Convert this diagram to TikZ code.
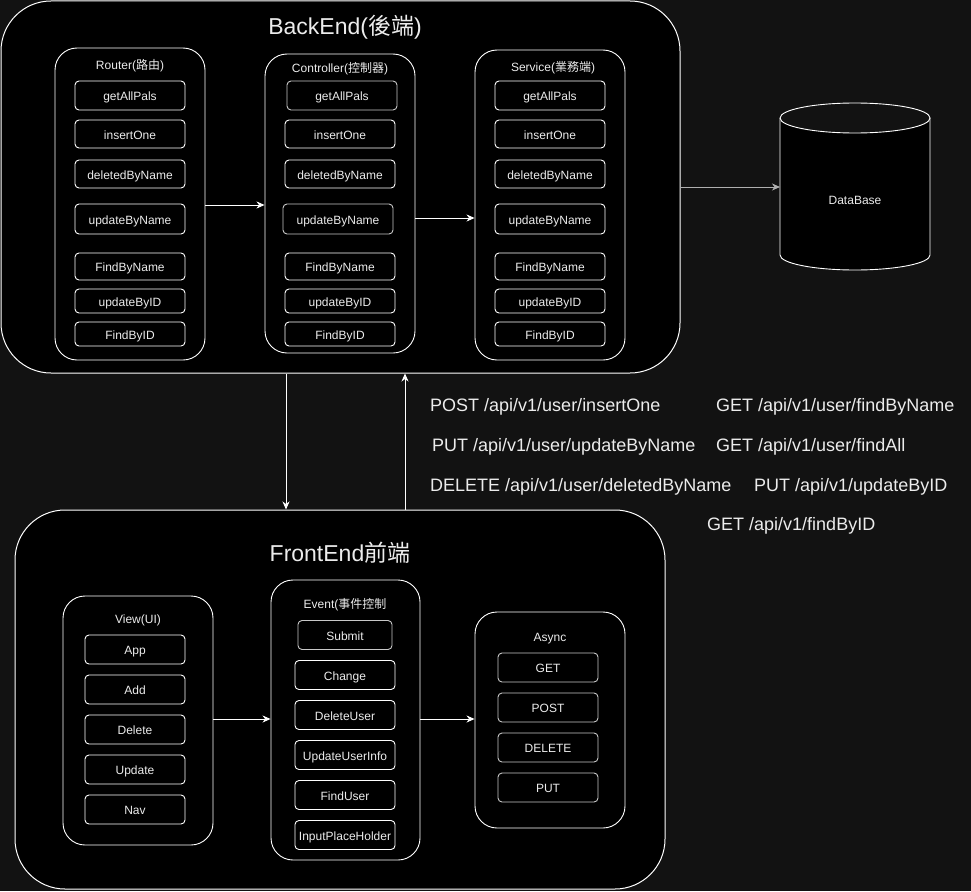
\documentclass[tikz,border=0pt]{standalone}
\usepackage{fontspec}
\setmainfont{Liberation Sans}
\newfontfamily\cjk{Noto Sans CJK TC}
\usetikzlibrary{arrows.meta}
\definecolor{canvas}{RGB}{18,18,18}
\definecolor{ink}{RGB}{236,236,236}
\definecolor{soft}{RGB}{200,200,200}
\definecolor{dbline}{RGB}{175,175,175}
\begin{document}
\begin{tikzpicture}[x=1pt,y=-1pt,
  panel/.style={draw=white, fill=black, line width=1pt, rounded corners=50pt, inner sep=0pt},
  group/.style={draw=white, fill=black, line width=0.9pt, rounded corners=22pt, inner sep=0pt},
  item/.style={draw=white, fill=black, line width=0.9pt, rounded corners=4pt,
    minimum width=110pt, inner sep=0pt, text=ink, text height=11pt, text depth=1pt,
    font=\fontsize{12}{14}\selectfont},
  softitem/.style={item, draw=soft},
  title/.style={text=ink, text height=17pt, text depth=2pt, font=\fontsize{23}{27}\selectfont},
  caption/.style={text=ink, text height=10pt, text depth=2pt, font=\fontsize{12}{14}\selectfont},
  api/.style={text=ink, anchor=west, inner sep=0pt, text height=15pt, text depth=2pt,
    font=\fontsize{18}{21}\selectfont},
  arr/.style={draw=white, line width=0.9pt, -{Stealth[length=8pt,width=7pt,inset=2.5pt]}},
  dbarr/.style={arr, draw=dbline, -{Stealth[length=8pt,width=7pt,inset=2.5pt,fill=dbline]}},
]
% canvas
\fill[canvas] (0,0) rectangle (971,891);
\useasboundingbox (0,0) rectangle (971,891);

% ---------------- back end ----------------
\node[panel, minimum width=679pt, minimum height=372pt] (back) at (340.5,187) {};
\node[title] (backtitle) at (345,27) {BackEnd({\cjk 後端})};

\node[group, minimum width=150pt, minimum height=312pt] (router) at (130,204) {};
\node[group, minimum width=150pt, minimum height=299pt] (ctrl) at (340,203.5) {};
\node[group, minimum width=150pt, minimum height=310pt] (svc) at (550,205) {};
\node[caption] (routerlbl) at (130,66) {Router({\cjk 路由})};
\node[caption] (ctrllbl) at (340,69) {Controller({\cjk 控制器})};
\node[caption] (svclbl) at (553,67) {Service({\cjk 業務端})};

\foreach \n/\t/\y/\h in {ga/getAllPals/95.5/29, io/insertOne/134/28,
    dn/deletedByName/174/28, un/updateByName/219/30, fn/FindByName/266.5/27,
    ui/updateByID/301/24, fi/FindByID/334/24}{
  \node[item, minimum height=\h pt] (r-\n) at (130,\y) {\t};
  \node[item, minimum height=\h pt] (s-\n) at (550,\y) {\t};
}
\node[softitem, minimum height=29pt] (c-ga) at (342,95.5) {getAllPals};
\node[item, minimum height=28pt] (c-io) at (340,134) {insertOne};
\node[item, minimum height=28pt] (c-dn) at (340,174) {deletedByName};
\node[softitem, minimum height=30pt] (c-un) at (338,219) {updateByName};
\node[item, minimum height=27pt] (c-fn) at (340,266.5) {FindByName};
\node[item, minimum height=24pt] (c-ui) at (340,301) {updateByID};
\node[item, minimum height=24pt] (c-fi) at (340,334) {FindByID};

\draw[arr] (router.east |- 0,205) -- (ctrl.west |- 0,205);
\draw[arr] (ctrl.east |- 0,218) -- (svc.west |- 0,218);

% ---------------- database ----------------
\fill[black] (780,118) -- (780,255) arc[start angle=180, end angle=0, x radius=75, y radius=15]
  -- (930,118) arc[start angle=0, end angle=180, x radius=75, y radius=15] -- cycle;
\draw[white, line width=0.9pt] (780,118) -- (780,255)
  arc[start angle=180, end angle=0, x radius=75, y radius=15] -- (930,118);
\draw[white, line width=0.9pt] (855,118) ellipse[x radius=75, y radius=15];
\node[caption] (db) at (855,200) {DataBase};
\coordinate (dbin) at (780,187);
\draw[dbarr] (back.east) -- (dbin);

% ---------------- front end ----------------
\node[panel, minimum width=650pt, minimum height=379pt] (front) at (340,699.5) {};
\node[title] (fronttitle) at (340,554) {FrontEnd{\cjk 前端}};

\node[group, minimum width=150pt, minimum height=249pt] (view) at (138,720.5) {};
\node[group, minimum width=149pt, minimum height=280pt] (event) at (345.5,720) {};
\node[group, minimum width=150pt, minimum height=216pt] (async) at (550,720) {};
\node[caption] (viewlbl) at (138,619) {View(UI)};
\node[caption] (eventlbl) at (345,604) {Event({\cjk 事件控制}};
\node[caption] (asynclbl) at (550,637) {Async};

\foreach \n/\t/\y in {app/App/649.5, add/Add/689.5, del/Delete/729.5, upd/Update/769.5, nav/Nav/809.5}{
  \node[item, minimum height=29pt, minimum width=100pt] (v-\n) at (135,\y) {\t};
}
\node[softitem, minimum height=29pt, minimum width=94pt] (e-sub) at (345,635) {Submit};
\foreach \n/\t/\y in {chg/Change/675, du/DeleteUser/715, uu/UpdateUserInfo/755, fu/FindUser/795, ip/InputPlaceHolder/835}{
  \node[item, minimum height=29pt, minimum width=100pt] (e-\n) at (345,\y) {\t};
}
\foreach \n/\t/\y in {get/GET/667.5, post/POST/707.5, delete/DELETE/747.5, put/PUT/787.5}{
  \node[softitem, minimum height=29pt, minimum width=100pt] (a-\n) at (548,\y) {\t};
}

\draw[arr] (view.east |- 0,719) -- (event.west |- 0,719);
\draw[arr] (event.east |- 0,719) -- (async.west |- 0,719);

% ---------------- requests between the two ends ----------------
\draw[arr] (286,0 |- back.south) -- (286,0 |- front.north);
\draw[arr] (405,0 |- front.north) -- (405,0 |- back.south);

\node[api] (p1) at (430,405) {POST /api/v1/user/insertOne};
\node[api] (p2) at (716,405) {GET /api/v1/user/findByName};
\node[api] (p3) at (432,445) {PUT /api/v1/user/updateByName};
\node[api] (p4) at (716,445) {GET /api/v1/user/findAll};
\node[api] (p5) at (430,485) {DELETE /api/v1/user/deletedByName};
\node[api] (p6) at (754,485) {PUT /api/v1/updateByID};
\node[api] (p7) at (707,524) {GET /api/v1/findByID};
\end{tikzpicture}
\end{document}
